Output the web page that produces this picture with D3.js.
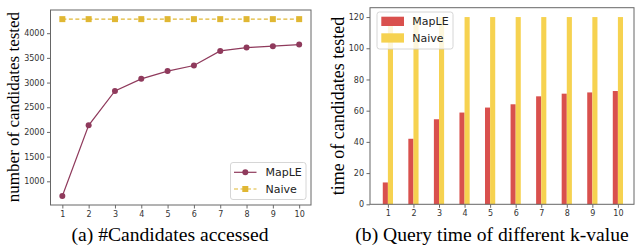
<!DOCTYPE html>
<html><head><meta charset="utf-8">
<script src="https://cdn.jsdelivr.net/npm/d3@7"></script>
<style>body{margin:0;background:#fff}svg{display:block}</style>
</head><body>
<svg id="c" width="636" height="245"></svg>
<script>
const kValues = [1,2,3,4,5,6,7,8,9,10];
const candMapLE = [701,2134,2831,3075,3232,3346,3642,3709,3738,3770];
const candNaive = [4285,4285,4285,4285,4285,4285,4285,4285,4285,4285];
const timeMapLE = [14,42,54.5,58.8,62,64.1,69.2,70.9,71.7,72.6];
const timeNaive = [120,120,120,120,120,120,120,120,120,120];
const leftTicks = [1000,1500,2000,2500,3000,3500,4000];
const rightTicks = [0,20,40,60,80,100,120];
const seriesNames = ["MapLE","Naive"];

const svg = d3.select("#c");
const tickFont = "DejaVu Sans, sans-serif";
const serif = "Liberation Serif, Times New Roman, serif";
const frameCol = "#666";
const lineCol = "#8f3a5c", naiveLineCol = "#e0b733";
const barRed = "#d9504d", barYel = "#f6d250";
const fmt = d3.format("d");

function styleAxis(g){
  g.selectAll(".domain").remove();
  g.selectAll(".tick line").attr("stroke","#444").attr("stroke-width",0.8);
  g.selectAll(".tick text").attr("fill","#333").style("font-family",tickFont).style("font-size","8px");
}

// ---------- Left chart ----------
const L = {x0:50.5, x1:311, y0:10, y1:205};
const xL = d3.scaleLinear().domain([0.55,10.45]).range([L.x0,L.x1]);
const yL = d3.scaleLinear().domain([520,4470]).range([L.y1,L.y0]);
const gL = svg.append("g");
gL.append("g").attr("transform",`translate(0,${L.y1})`)
  .call(d3.axisBottom(xL).tickValues(kValues).tickFormat(fmt).tickSize(3.5).tickPadding(2.5)).call(styleAxis);
gL.append("g").attr("transform",`translate(${L.x0},0)`)
  .call(d3.axisLeft(yL).tickValues(leftTicks).tickFormat(fmt).tickSize(3.5).tickPadding(2.5)).call(styleAxis);
gL.append("rect").attr("x",L.x0).attr("y",L.y0).attr("width",L.x1-L.x0).attr("height",L.y1-L.y0)
  .attr("fill","none").attr("stroke",frameCol).attr("stroke-width",1);

const line = d3.line().x((d,i)=>xL(kValues[i])).y(d=>yL(d));
gL.append("path").datum(candNaive).attr("d",line).attr("fill","none")
  .attr("stroke",naiveLineCol).attr("stroke-width",1.2).attr("stroke-dasharray","4,2.5");
gL.selectAll(".nsq").data(candNaive).join("rect")
  .attr("x",(d,i)=>xL(kValues[i])-3).attr("y",d=>yL(d)-3).attr("width",6).attr("height",6).attr("fill",naiveLineCol);
gL.append("path").datum(candMapLE).attr("d",line).attr("fill","none")
  .attr("stroke",lineCol).attr("stroke-width",1.2);
gL.selectAll(".mc").data(candMapLE).join("circle")
  .attr("cx",(d,i)=>xL(kValues[i])).attr("cy",d=>yL(d)).attr("r",3).attr("fill",lineCol);

// left legend
const lg = gL.append("g").attr("transform","translate(230.5,162.5)");
lg.append("rect").attr("width",75.5).attr("height",37).attr("rx",2.5)
  .attr("fill","#fff").attr("fill-opacity",0.8).attr("stroke","#ccc").attr("stroke-width",0.8);
lg.append("line").attr("x1",3.5).attr("x2",26).attr("y1",9.8).attr("y2",9.8).attr("stroke",lineCol).attr("stroke-width",1.2);
lg.append("circle").attr("cx",14.8).attr("cy",9.8).attr("r",3).attr("fill",lineCol);
lg.append("line").attr("x1",3.5).attr("x2",26).attr("y1",26.5).attr("y2",26.5).attr("stroke",naiveLineCol).attr("stroke-width",1.2).attr("stroke-dasharray","4,2.5");
lg.append("rect").attr("x",11.8).attr("y",23.5).attr("width",6).attr("height",6).attr("fill",naiveLineCol);
lg.selectAll("text").data(seriesNames).join("text")
  .attr("x",35).attr("y",(d,i)=>9.8+i*16.7).attr("dy","0.36em")
  .style("font-family",tickFont).style("font-size","11px").attr("fill","#222").text(d=>d);

svg.append("text").attr("transform","translate(19,107) rotate(-90)").attr("text-anchor","middle")
  .style("font-family",serif).style("font-size","17px").attr("fill","#000").text("number of candidates tested");
svg.append("text").attr("x",170).attr("y",241).attr("text-anchor","middle")
  .style("font-family",serif).style("font-size","19.6px").attr("fill","#000").text("(a) #Candidates accessed");

// ---------- Right chart ----------
const R = {x0:370, x1:634, y0:7.7, y1:204.3};
const xR = d3.scaleLinear().domain([0.3,10.63]).range([R.x0,R.x1]);
const yR = d3.scaleLinear().domain([0,126]).range([R.y1,R.y0]);
const barW = 0.2;
const gR = svg.append("g");
gR.append("g").attr("transform",`translate(0,${R.y1})`)
  .call(d3.axisBottom(xR).tickValues(kValues).tickFormat(fmt).tickSize(3.5).tickPadding(2.5)).call(styleAxis);
gR.append("g").attr("transform",`translate(${R.x0},0)`)
  .call(d3.axisLeft(yR).tickValues(rightTicks).tickFormat(fmt).tickSize(3.5).tickPadding(2.5)).call(styleAxis);

gR.selectAll(".br").data(timeMapLE).join("rect")
  .attr("x",(d,i)=>xR(kValues[i]-barW)).attr("width",xR(barW)-xR(0))
  .attr("y",d=>yR(d)).attr("height",d=>yR(0)-yR(d)).attr("fill",barRed);
gR.selectAll(".by").data(timeNaive).join("rect")
  .attr("x",(d,i)=>xR(kValues[i])).attr("width",xR(barW)-xR(0))
  .attr("y",d=>yR(d)).attr("height",d=>yR(0)-yR(d)).attr("fill",barYel);
gR.append("rect").attr("x",R.x0).attr("y",R.y0).attr("width",R.x1-R.x0).attr("height",R.y1-R.y0)
  .attr("fill","none").attr("stroke",frameCol).attr("stroke-width",1);

const rg = gR.append("g").attr("transform","translate(377,12)");
rg.append("rect").attr("width",76).attr("height",37).attr("rx",2.5)
  .attr("fill","#fff").attr("fill-opacity",0.8).attr("stroke","#ccc").attr("stroke-width",0.8);
rg.append("rect").attr("x",4.3).attr("y",4.7).attr("width",22.7).attr("height",9.3).attr("fill",barRed);
rg.append("rect").attr("x",4.3).attr("y",21.3).attr("width",22.7).attr("height",9.3).attr("fill",barYel);
rg.selectAll("text").data(seriesNames).join("text")
  .attr("x",35.3).attr("y",(d,i)=>9.3+i*17).attr("dy","0.36em")
  .style("font-family",tickFont).style("font-size","11px").attr("fill","#222").text(d=>d);

svg.append("text").attr("transform","translate(344,106) rotate(-90)").attr("text-anchor","middle")
  .style("font-family",serif).style("font-size","18px").attr("fill","#000").text("time of candidates tested");
svg.append("text").attr("x",492).attr("y",241).attr("text-anchor","middle")
  .style("font-family",serif).style("font-size","19.6px").attr("fill","#000").text("(b) Query time of different k-value");
</script>
</body></html>
